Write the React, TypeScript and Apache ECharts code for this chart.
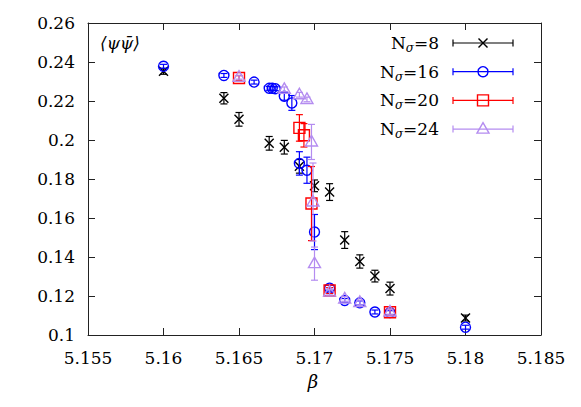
import React, { useEffect, useRef } from 'react';
import * as echarts from 'echarts';

// ---- data ----
const beta8 = [5.16, 5.164, 5.165, 5.167, 5.168, 5.169, 5.17, 5.171, 5.172, 5.173, 5.174, 5.175, 5.18];
const pbp8 = [0.2352, 0.2214, 0.2106, 0.1983, 0.1963, 0.1865, 0.1765, 0.1733, 0.1487, 0.1377, 0.1302, 0.1238, 0.1087];
const err8 = [0.0015, 0.0029, 0.0035, 0.0035, 0.0035, 0.0035, 0.003, 0.0043, 0.0043, 0.0034, 0.003, 0.0033, 0.0015];

const beta16 = [5.16, 5.164, 5.166, 5.167, 5.1672, 5.1674, 5.168, 5.1685, 5.169, 5.1695, 5.17, 5.171, 5.172, 5.173, 5.174, 5.175, 5.18];
const pbp16 = [0.2378, 0.2331, 0.2297, 0.2265, 0.2265, 0.2263, 0.2224, 0.219, 0.188, 0.1845, 0.1528, 0.124, 0.1177, 0.1165, 0.1118, 0.1115, 0.104];
const err16 = [0.001, 0.001, 0.001, 0.001, 0.001, 0.001, 0.002, 0.0038, 0.006, 0.0067, 0.009, 0.0015, 0.001, 0.001, 0.001, 0.001, 0.001];

const beta20 = [5.165, 5.169, 5.1693, 5.1698, 5.171, 5.175];
const pbp20 = [0.2318, 0.2062, 0.2024, 0.1674, 0.1228, 0.1117];
const err20 = [0.0012, 0.0068, 0.006, 0.019, 0.0015, 0.0015];

const beta24 = [5.165, 5.168, 5.169, 5.1695, 5.1698, 5.1699, 5.17, 5.171, 5.172, 5.173, 5.175];
const pbp24 = [0.2322, 0.226, 0.2232, 0.2208, 0.199, 0.1682, 0.1366, 0.122, 0.1185, 0.1167, 0.1118];
const err24 = [0.001, 0.0012, 0.0012, 0.0012, 0.009, 0.02, 0.0085, 0.0015, 0.0012, 0.0012, 0.0012];

const nSigma = ['8', '16', '20', '24'];
const xMin = 5.155;
const xMax = 5.185;
const xStep = 0.005;
const yMin = 0.1;
const yMax = 0.26;
const yStep = 0.02;

const groups = [
  { n: nSigma[0], b: beta8, v: pbp8, e: err8, color: '#000000', marker: 'cross' },
  { n: nSigma[1], b: beta16, v: pbp16, e: err16, color: '#0000ff', marker: 'circle' },
  { n: nSigma[2], b: beta20, v: pbp20, e: err20, color: '#ff0000', marker: 'square' },
  { n: nSigma[3], b: beta24, v: pbp24, e: err24, color: '#b48cf0', marker: 'triangle' },
];

const FONT = 'DejaVu Serif';

function markerShapes(kind: string, x: number, y: number, color: string): any[] {
  const style = { stroke: color, fill: 'none', lineWidth: 1.4 };
  if (kind === 'cross') {
    const s = 4.5;
    return [
      { type: 'line', shape: { x1: x - s, y1: y - s, x2: x + s, y2: y + s }, style },
      { type: 'line', shape: { x1: x - s, y1: y + s, x2: x + s, y2: y - s }, style },
    ];
  }
  if (kind === 'circle') return [{ type: 'circle', shape: { cx: x, cy: y, r: 5 }, style }];
  if (kind === 'square') return [{ type: 'rect', shape: { x: x - 5.5, y: y - 5.5, width: 11, height: 11 }, style }];
  return [{ type: 'polygon', shape: { points: [[x, y - 6.5], [x + 6, y + 4], [x - 6, y + 4]] }, style }];
}

function errorBar(x: number, yTop: number, yBot: number, color: string): any[] {
  const style = { stroke: color, lineWidth: 1.2 };
  const c = 3.5;
  return [
    { type: 'line', shape: { x1: x, y1: yTop, x2: x, y2: yBot }, style },
    { type: 'line', shape: { x1: x - c, y1: yTop, x2: x + c, y2: yTop }, style },
    { type: 'line', shape: { x1: x - c, y1: yBot, x2: x + c, y2: yBot }, style },
  ];
}

function errorBarH(x1: number, x2: number, y: number, color: string): any[] {
  const style = { stroke: color, lineWidth: 1.2 };
  const c = 3.5;
  return [
    { type: 'line', shape: { x1, y1: y, x2, y2: y }, style },
    { type: 'line', shape: { x1, y1: y - c, x2: x1, y2: y + c }, style },
    { type: 'line', shape: { x1: x2, y1: y - c, x2, y2: y + c }, style },
  ];
}

export default function App() {
  const ref = useRef<HTMLDivElement>(null);
  useEffect(() => {
    document.body.style.margin = '0';
    if (!ref.current) return;
    const chart = echarts.init(ref.current, null, { renderer: 'svg' });

    const axisCommon = {
      type: 'value',
      axisLine: { show: true, onZero: false, lineStyle: { color: '#222', width: 1 } },
      axisTick: { show: true, inside: true, length: 7, lineStyle: { color: '#222' } },
      splitLine: { show: false },
    };

    const series = groups.map((g) => ({
      type: 'custom',
      name: 'N' + g.n,
      xAxisIndex: 0,
      yAxisIndex: 0,
      encode: { x: 0, y: 1 },
      data: g.b.map((b, i) => [b, g.v[i], g.e[i]]),
      renderItem: (params: any, api: any) => {
        const x = api.value(0);
        const y = api.value(1);
        const e = api.value(2);
        const p = api.coord([x, y]);
        const t = api.coord([x, y + e]);
        const bt = api.coord([x, y - e]);
        return {
          type: 'group',
          children: [...errorBar(p[0], t[1], bt[1], g.color), ...markerShapes(g.marker, p[0], p[1], g.color)],
        };
      },
    }));

    const legendX = 439;
    const legendY0 = 43;
    const legendDy = 28.7;
    const legendGraphics: any[] = [];
    groups.forEach((g, i) => {
      const y = legendY0 + i * legendDy;
      legendGraphics.push({
        type: 'text',
        x: legendX,
        y: y,
        style: {
          text: '{n|N}{s|σ}{n|=' + g.n + '}',
          align: 'right',
          verticalAlign: 'middle',
          fill: '#000',
          rich: {
            n: { fontSize: 17, fontFamily: FONT, lineHeight: 22, fill: '#000' },
            s: { fontSize: 12, fontFamily: FONT, lineHeight: 12, verticalAlign: 'bottom', fill: '#000', fontStyle: 'italic' },
          },
        },
      });
      const x1 = 453, x2 = 513;
      legendGraphics.push(...errorBarH(x1, x2, y, g.color));
      legendGraphics.push(...markerShapes(g.marker, (x1 + x2) / 2, y, g.color));
    });

    chart.setOption({
      animation: false,
      backgroundColor: '#ffffff',
      grid: { left: 88, right: 40, top: 23, bottom: 72 },
      xAxis: [
        {
          ...axisCommon,
          position: 'bottom',
          min: xMin,
          max: xMax,
          interval: xStep,
          axisLabel: {
            show: true,
            margin: 14,
            color: '#000',
            fontFamily: FONT,
            fontSize: 17,
            formatter: (v: number) => String(+v.toFixed(3)),
          },
        },
        {
          ...axisCommon,
          position: 'top',
          min: xMin,
          max: xMax,
          interval: xStep,
          axisLabel: { show: false },
        },
      ],
      yAxis: [
        {
          ...axisCommon,
          position: 'left',
          min: yMin,
          max: yMax,
          interval: yStep,
          axisLabel: {
            show: true,
            margin: 13,
            color: '#000',
            fontFamily: FONT,
            fontSize: 17,
            formatter: (v: number) => String(+v.toFixed(2)),
          },
        },
        {
          ...axisCommon,
          position: 'right',
          min: yMin,
          max: yMax,
          interval: yStep,
          axisLabel: { show: false },
        },
      ],
      graphic: [
        {
          type: 'text',
          x: 100,
          y: 43,
          style: {
            text: '⟨ψψ̄⟩',
            fontFamily: FONT,
            fontStyle: 'italic',
            fontSize: 17,
            fill: '#000',
            verticalAlign: 'middle',
            align: 'left',
          },
        },
        {
          type: 'text',
          x: 313,
          y: 381,
          style: {
            text: 'β',
            fontFamily: FONT,
            fontStyle: 'italic',
            fontSize: 18,
            fill: '#000',
            align: 'center',
            verticalAlign: 'middle',
          },
        },
        ...legendGraphics,
      ],
      series,
    });
    return () => chart.dispose();
  }, []);
  return <div ref={ref} style={{ width: 581, height: 407 }} />;
}
